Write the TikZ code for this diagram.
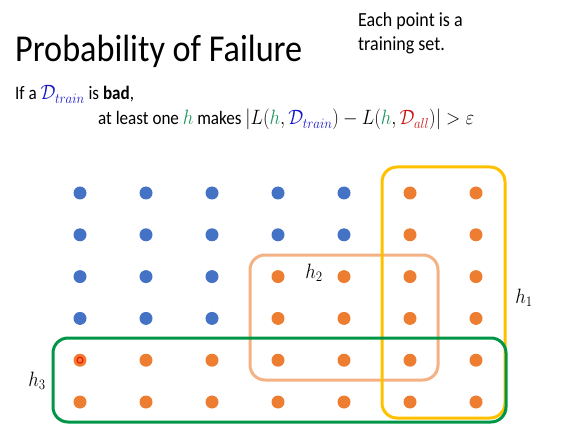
\documentclass[tikz,border=0pt]{standalone}
\usepackage{fontspec}
\setmainfont{Carlito}
\usepackage{tikz}
\usetikzlibrary{positioning}
\definecolor{dotblue}{RGB}{68,114,196}
\definecolor{dotorange}{RGB}{237,125,49}
\definecolor{hyellow}{RGB}{255,192,0}
\definecolor{hpeach}{RGB}{244,177,131}
\definecolor{hgreen}{RGB}{0,150,70}
\definecolor{dblue}{RGB}{20,20,200}
\definecolor{hlgreen}{RGB}{30,150,90}
\definecolor{dred}{RGB}{200,20,20}
\newcommand{\bigmath}[1]{{\fontsize{22}{22}\selectfont$#1$}}
\tikzset{
  txt/.style={inner sep=0pt, xscale=0.9},
  pt/.style={circle, inner sep=0pt, minimum size=13pt},
  hbox/.style={rounded corners=15pt, line width=3pt},
}
\begin{document}
\begin{tikzpicture}[x=1pt,y=-1pt]
        \useasboundingbox (0,0) rectangle (580,438);
        % Title and note
        \node[txt, anchor=base west, font=\fontsize{38}{40}\selectfont] (title) at (15,62) {Probability of Failure};
        \node[txt, anchor=north west, font=\fontsize{20}{24}\selectfont, align=left] (note) at (358,12) {Each point is a\\training set.};
        % Condition text
        \node[txt, anchor=base west, font=\fontsize{19}{20}\selectfont] (cond1) at (15,100)
          {If a \bigmath{\color{dblue}\mathcal{D}_{train}} is \textbf{bad},};
        \node[txt, anchor=base west, font=\fontsize{19}{20}\selectfont] (cond2) at (98,125)
          {at least one \bigmath{\color{hlgreen}h} makes \bigmath{|L({\color{hlgreen}h},{\color{dblue}\mathcal{D}_{train}})-L({\color{hlgreen}h},{\color{dred}\mathcal{D}_{all}})|>\varepsilon}};
        % Draw the hypothesis boxes
        \draw[hbox, hpeach] (250,255) rectangle (438,380);
        \draw[hbox, hyellow] (382,167) rectangle (505,418);
        \draw[hbox, hgreen] (53,338) rectangle (506,422);
        % Draw the training sets
        \foreach \i in {0,...,6}
          \foreach \j in {0,...,5} {
            \pgfmathtruncatemacro{\isblue}{(\i<5)*((\j<2)+(\j<4)*(\i<3))}
            \ifnum\isblue>0
              \node[pt, fill=dotblue] (p-\i-\j) at (80+66*\i,193+41.8*\j) {};
            \else
              \node[pt, fill=dotorange] (p-\i-\j) at (80+66*\i,193+41.8*\j) {};
            \fi
          }
        % Pointer mark
        \draw[red, line width=1pt] (p-0-4) circle (3pt);
        % Labels of the hypotheses
        \node[txt, font=\fontsize{21}{21}\selectfont] (h1) at (524,298) {$h_1$};
        \node[txt, font=\fontsize{21}{21}\selectfont] (h2) at (314,273) {$h_2$};
        \node[txt, font=\fontsize{21}{21}\selectfont] (h3) at (37,381) {$h_3$};
      \end{tikzpicture}
\end{document}
